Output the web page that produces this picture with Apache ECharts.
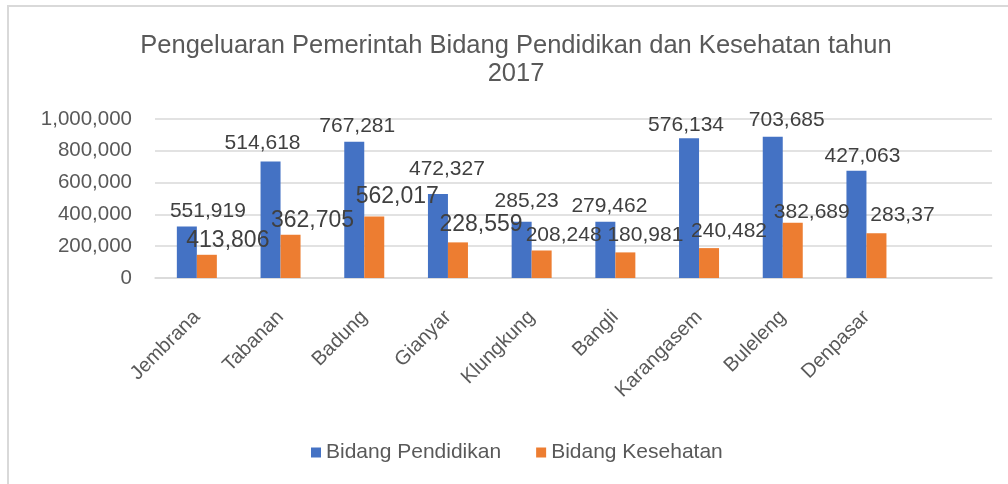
<!DOCTYPE html>
<html>
<head>
<meta charset="utf-8">
<script src="https://cdn.jsdelivr.net/npm/echarts@6/dist/echarts.min.js"></script>
<style>
html,body{margin:0;padding:0;background:#fff;}
#chart{position:absolute;left:0;top:0;width:1008px;height:484px;}
#frame{position:absolute;left:7px;top:5px;width:1001px;height:479px;border-top:2px solid #d9d9d9;border-left:2px solid #d9d9d9;pointer-events:none;}
</style>
</head>
<body>
<div id="chart"></div>
<div id="frame"></div>
<script>
// Data
const categories = ['Jembrana','Tabanan','Badung','Gianyar','Klungkung','Bangli','Karangasem','Buleleng','Denpasar',''];
const seriesNames = ['Bidang Pendidikan','Bidang Kesehatan'];
const pendidikanValues = [324000, 732000, 857000, 529000, 353000, 353000, 879000, 889000, 675000, null];
const kesehatanValues = [146000, 272000, 387000, 224000, 173000, 161000, 188000, 347000, 282000, null];
const pendidikanLabels = ['551,919','514,618','767,281','472,327','285,23','279,462','576,134','703,685','427,063',''];
const kesehatanLabels = ['413,806','362,705','562,017','228,559','208,248','180,981','240,482','382,689','283,37',''];
const yTicks = [0, 200000, 400000, 600000, 800000, 1000000];

// Layout of labels (offsets from bar top, px) and font sizes
const pendidikanOffsets = [[21,-5],[-8,-8],[3,-5],[9,-14],[5,-10],[4,-5],[-3,-3],[14,-6],[6,-4],[0,0]];
const kesehatanOffsets = [[21,-3],[22,-3],[23,-8],[23,-6],[22,-5],[20,-7],[20,-6],[19,0],[26,-7],[0,0]];
const pendidikanFont = [21,21,21,21,21,21,21,21,21,21];
const kesehatanFont = [23,23,23,23,21,21,21,21,21,21];

function fmt(v){ return v.toLocaleString('en-US'); }

function buildData(values, labels, offsets, fonts){
  return values.map((v,i)=>({
    value: v,
    label: {
      formatter: labels[i],
      offset: offsets[i],
      fontSize: fonts[i],
      lineHeight: fonts[i]
    }
  }));
}

const FONT = 'Liberation Sans, Arial, sans-serif';
const chart = echarts.init(document.getElementById('chart'));
chart.setOption({
  animation: false,
  backgroundColor: '#ffffff',
  title: {
    text: 'Pengeluaran Pemerintah Bidang Pendidikan dan Kesehatan tahun\n2017',
    left: 511, top: 27, textAlign: 'center',
    textStyle: { fontFamily: FONT, fontSize: 25.5, fontWeight: 'normal', color: '#595959', lineHeight: 28 }
  },
  legend: {
    data: seriesNames,
    left: 311, top: 442, padding: 0,
    itemWidth: 10, itemHeight: 10, itemGap: 35,
    icon: 'rect',
    textStyle: { fontFamily: FONT, fontSize: 21, color: '#595959' }
  },
  grid: { left: 155, right: 16, top: 119, bottom: 206, containLabel: false },
  xAxis: {
    type: 'category',
    data: categories,
    axisLine: { show: true, lineStyle: { color: '#d9d9d9', width: 1.5 } },
    axisTick: { show: false },
    axisLabel: { interval: 0, rotate: 45, margin: 36, fontFamily: FONT, fontSize: 20, color: '#595959' }
  },
  yAxis: {
    type: 'value',
    min: yTicks[0], max: yTicks[yTicks.length-1], interval: yTicks[1]-yTicks[0],
    axisLine: { show: false },
    axisTick: { show: false },
    splitLine: { lineStyle: { color: '#d9d9d9', width: 1.5 } },
    axisLabel: { margin: 23, formatter: fmt, fontFamily: FONT, fontSize: 20.5, color: '#595959' }
  },
  series: [
    {
      name: seriesNames[0], type: 'bar', barWidth: 20, barGap: '0%',
      itemStyle: { color: '#4472C4' },
      label: { show: true, position: 'top', distance: 0, color: '#404040', fontFamily: FONT },
      data: buildData(pendidikanValues, pendidikanLabels, pendidikanOffsets, pendidikanFont)
    },
    {
      name: seriesNames[1], type: 'bar', barWidth: 20, barGap: '0%',
      itemStyle: { color: '#ED7D31' },
      label: { show: true, position: 'top', distance: 0, color: '#404040', fontFamily: FONT },
      data: buildData(kesehatanValues, kesehatanLabels, kesehatanOffsets, kesehatanFont)
    }
  ]
});
</script>
</body>
</html>
